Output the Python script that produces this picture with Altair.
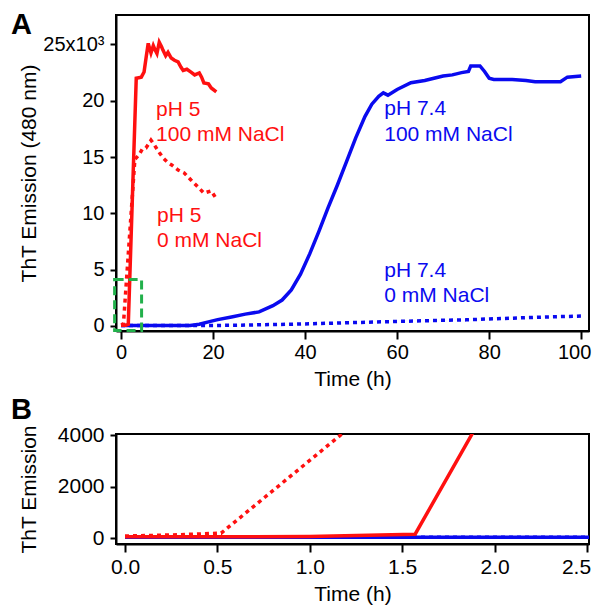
import altair as alt
import pandas as pd

# ---------------- data ----------------
# pH 5, 100 mM NaCl (red, solid)
red_solid_t = [0, 0.5, 1.0, 1.57, 3.3, 4.4, 5.0, 5.5, 5.9, 6.5, 7.0, 7.3, 7.8, 8.3, 8.8,
               9.1, 9.7, 10.2, 10.9, 11.6, 12.4, 13.0, 13.5, 14.3, 15.2, 16.0, 17.0,
               17.5, 18.0, 19.0, 19.6, 20.7]
red_solid_v = [50, 50, 60, 150, 22000, 22100, 22560, 24000, 25100, 24250, 24900, 24600,
               24200, 25200, 24800, 24500, 24000, 24300, 23800, 23600, 23450, 23000,
               22700, 22800, 22550, 22300, 22470, 22100, 21580, 21500, 21140, 20800]

# pH 5, 0 mM NaCl (red, dotted)
red_dot_t = [0, 0.25, 0.52, 3.0, 3.9, 4.6, 5.4, 6.5, 7.2, 8.3, 9.2, 10.2, 11.0, 12.4,
             13.7, 15.2, 16.7, 18.0, 19.6, 20.7]
red_dot_v = [80, 120, 190, 14800, 15200, 15700, 15800, 16500, 16100, 15400, 14900, 14500,
             14300, 13850, 13600, 12960, 12350, 11800, 12000, 11300]

# pH 7.4, 100 mM NaCl (blue, solid)
blue_solid_t = [0, 5, 10, 15, 17, 19, 21, 24, 27, 30, 33, 35, 37, 39, 41, 43, 45, 47, 49,
                51, 53, 54.5, 56, 57, 58, 60, 63, 66, 68, 70, 72, 74, 75.5, 76, 78, 79,
                80, 81, 85, 88, 90, 93, 95.5, 97, 100]
blue_solid_v = [30, 30, 30, 30, 150, 360, 560, 800, 1050, 1250, 1800, 2300, 3200, 4600,
                6400, 8400, 10500, 12500, 14600, 16700, 18600, 19700, 20400, 20700, 20500,
                21000, 21600, 21800, 22000, 22200, 22300, 22500, 22600, 23100, 23100,
                22600, 22000, 21900, 21900, 21800, 21700, 21700, 21700, 22100, 22200]

# pH 7.4, 0 mM NaCl (blue, dotted)
blue_dot_t = [0, 10, 15, 20, 25, 30, 40, 50, 60, 70, 75, 80, 90, 100]
blue_dot_v = [30, 30, 30, 40, 60, 100, 180, 290, 400, 500, 540, 620, 760, 880]

# annotation labels (text, anchor time, anchor value, colour key)
ann_text = ["pH 5", "100 mM NaCl", "pH 5", "0 mM NaCl",
            "pH 7.4", "100 mM NaCl", "pH 7.4", "0 mM NaCl"]
ann_t = [7.6, 7.6, 7.8, 7.8, 57.2, 57.2, 57.2, 57.2]
ann_v = [18650, 16430, 9240, 7015, 18740, 16430, 4350, 2130]
ann_col = ["red", "red", "red", "red", "blue", "blue", "blue", "blue"]

# zoomed region highlighted in panel A
box_t = [-1.4]
box_t2 = [4.46]
box_v = [-400]
box_v2 = [4130]

# tick values
xA_ticks = [0, 20, 40, 60, 80, 100]
yA_ticks = [0, 5000, 10000, 15000, 20000, 25000]
xB_ticks = [0, 0.5, 1.0, 1.5, 2.0, 2.5]
yB_ticks = [0, 2000, 4000]

# ---------------- styling ----------------
FONT = "Liberation Sans"
RED = "#ff1010"
BLUE = "#0a0aef"
GREEN = "#22b04b"
COLS = {"red": RED, "blue": BLUE}

series = [
    (blue_dot_t, blue_dot_v, BLUE, [4, 4]),
    (blue_solid_t, blue_solid_v, BLUE, None),
    (red_dot_t, red_dot_v, RED, [4, 4]),
    (red_solid_t, red_solid_v, RED, None),
]


def make_panel(x_enc, y_enc, w, h, clip, with_ann, letter, letter_y):
    layers = []
    for t, v, col, dash in series:
        df = pd.DataFrame({"t": t, "v": v})
        kw = dict(color=col, strokeWidth=3.5, clip=clip, strokeCap="butt")
        if dash:
            kw["strokeDash"] = dash
        layers.append(alt.Chart(df).mark_line(**kw).encode(x=x_enc, y=y_enc))
    if with_ann:
        adf = pd.DataFrame({"t": ann_t, "v": ann_v, "label": ann_text,
                            "col": [COLS[c] for c in ann_col]})
        layers.append(
            alt.Chart(adf).mark_text(align="left", baseline="alphabetic",
                                     fontSize=21, font=FONT).encode(
                x=x_enc, y=y_enc, text="label:N",
                color=alt.Color("col:N", scale=None))
        )
        bdf = pd.DataFrame({"t": box_t, "t2": box_t2, "v": box_v, "v2": box_v2})
        layers.append(
            alt.Chart(bdf).mark_rect(fillOpacity=0, stroke=GREEN, strokeWidth=3,
                                     strokeDash=[9, 5], clip=False).encode(
                x=x_enc, x2="t2:Q", y=y_enc, y2="v2:Q")
        )
    ldf = pd.DataFrame({"k": [0]})
    layers.append(
        alt.Chart(ldf).mark_text(align="left", baseline="alphabetic", fontSize=29,
                                 fontWeight="bold", font=FONT, color="black").encode(
            x=alt.value(-105), y=alt.value(letter_y), text=alt.value(letter))
    )
    return alt.layer(*layers).properties(width=w, height=h)


# Panel A
xA = alt.X("t:Q", scale=alt.Scale(domain=[-1.1, 101.7], nice=False, zero=False),
           axis=alt.Axis(values=xA_ticks, title="Time (h)", tickSize=8, labelPadding=3,
                         labelFontSize=20, titleFontSize=21, titlePadding=6,
                         labelFlush=False,
                         labelOffset={"condition": {"test": "datum.value == 100", "value": -7},
                                      "value": 0}))
yA = alt.Y("v:Q", scale=alt.Scale(domain=[-450, 27620], nice=False, zero=False),
           axis=alt.Axis(values=yA_ticks, title="ThT Emission (480 nm)", tickSize=6,
                         labelPadding=6, labelFontSize=20, titleFontSize=21,
                         titleX=-87, titleY=158, titleAlign="center",
                         titleBaseline="middle",
                         labelExpr="datum.value == 25000 ? '25x10³' : format(datum.value / 1000, 'd')"))

panelA = make_panel(xA, yA, 473, 316, True, True, "A", 19)

# Panel B
xB = alt.X("t:Q", scale=alt.Scale(domain=[-0.0487, 2.5108], nice=False, zero=False),
           axis=alt.Axis(values=xB_ticks, format=".1f", title="Time (h)", tickSize=8,
                         labelPadding=4, labelFontSize=21, titleFontSize=21,
                         titlePadding=6, labelFlush=False,
                         labelOffset={"condition": {"test": "datum.value == 2.5", "value": -11},
                                      "value": 0}))
yB = alt.Y("v:Q", scale=alt.Scale(domain=[-230, 4040], nice=False, zero=False),
           axis=alt.Axis(values=yB_ticks, format="d", title="ThT Emission", tickSize=6,
                         labelPadding=6, labelFontSize=21, titleFontSize=21,
                         titleX=-87, titleY=55, titleAlign="center",
                         titleBaseline="middle"))

panelB = make_panel(xB, yB, 473, 110, True, False, "B", -15)

chart = alt.vconcat(panelA, panelB, spacing=5).properties(
    padding={"left": 2, "top": 2, "right": 0, "bottom": 0}
).configure_view(
    stroke="black", strokeWidth=2
).configure_axis(
    labelFont=FONT, titleFont=FONT, labelColor="black", titleColor="black",
    domainColor="black", tickColor="black", domainWidth=2, tickWidth=2,
    grid=False, titleFontWeight="normal", labelOverlap=False
)

chart.save("out.html", embed_options={"renderer": "svg", "actions": False})
